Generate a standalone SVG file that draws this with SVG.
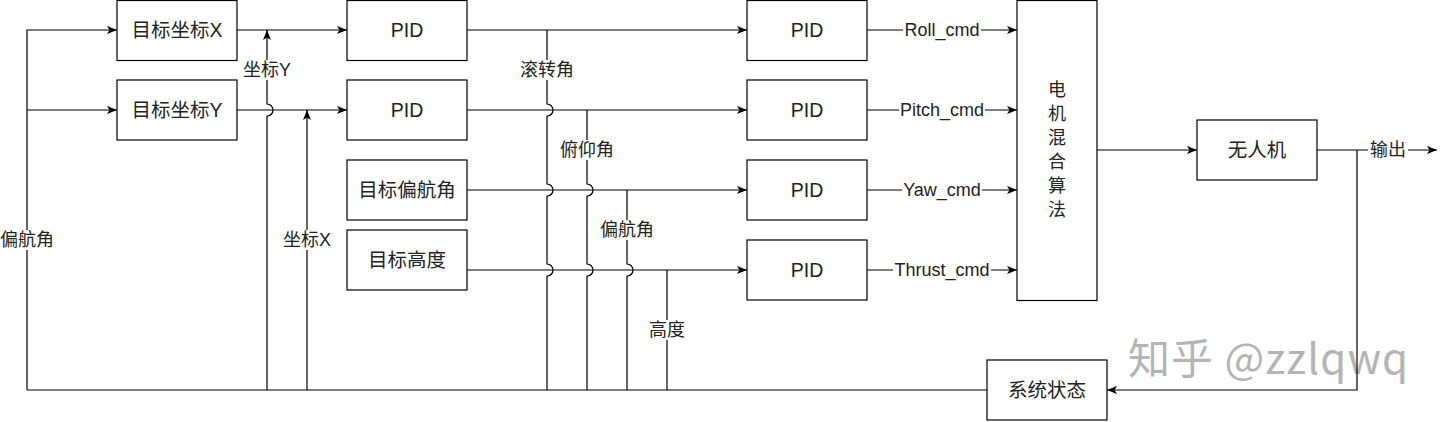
<svg xmlns="http://www.w3.org/2000/svg" width="1446" height="422" viewBox="0 0 1446 422">
<style>
.box{fill:#fff;stroke:#000;stroke-width:1.2}
.ln{fill:none;stroke:#000;stroke-width:1.2}
.t{font-family:"Liberation Sans","Noto Sans CJK SC",sans-serif;font-size:18px;fill:#222;text-anchor:middle;dominant-baseline:central}
.b{font-size:19.5px}
.bg{fill:#fff}
.wm{font-family:"Noto Sans CJK SC",sans-serif;font-size:42px;fill:#b4b4b4}
</style>
<defs>
<marker id="arr" markerUnits="userSpaceOnUse" markerWidth="12" markerHeight="12" refX="10" refY="5" orient="auto">
<path d="M0,1 L10,5 L0,9 L2.5,5 z" fill="#000"/>
</marker>
</defs>
<rect width="1446" height="422" fill="#fff"/>
<text class="wm" x="1128" y="374" textLength="280">知乎 @zzlqwq</text>
<g id="connectors">
<path class="ln" d="M27,390 L27,30 L117,30" marker-end="url(#arr)"/>
<path class="ln" d="M27,110 L117,110" marker-end="url(#arr)"/>
<path class="ln" d="M27,390 L987,390"/>
<path class="ln" d="M237,30 L347,30" marker-end="url(#arr)"/>
<path class="ln" d="M237,110 L347,110" marker-end="url(#arr)"/>
<path class="ln" d="M267,390 L267,116 A6,6 0 0 0 267,104 L267,30" marker-end="url(#arr)"/>
<path class="ln" d="M307,390 L307,110" marker-end="url(#arr)"/>
<path class="ln" d="M467,30 L747,30" marker-end="url(#arr)"/>
<path class="ln" d="M467,110 L747,110" marker-end="url(#arr)"/>
<path class="ln" d="M467,190 L747,190" marker-end="url(#arr)"/>
<path class="ln" d="M467,270 L747,270" marker-end="url(#arr)"/>
<path class="ln" d="M547,30 L547,104 A6,6 0 0 1 547,116 L547,184 A6,6 0 0 1 547,196 L547,264 A6,6 0 0 1 547,276 L547,390"/>
<path class="ln" d="M587,110 L587,184 A6,6 0 0 1 587,196 L587,264 A6,6 0 0 1 587,276 L587,390"/>
<path class="ln" d="M627,190 L627,264 A6,6 0 0 1 627,276 L627,390"/>
<path class="ln" d="M667,270 L667,390"/>
<path class="ln" d="M867,30 L1017,30" marker-end="url(#arr)"/>
<path class="ln" d="M867,110 L1017,110" marker-end="url(#arr)"/>
<path class="ln" d="M867,190 L1017,190" marker-end="url(#arr)"/>
<path class="ln" d="M867,270 L1017,270" marker-end="url(#arr)"/>
<path class="ln" d="M1097,150 L1197,150" marker-end="url(#arr)"/>
<path class="ln" d="M1317,150 L1437,150" marker-end="url(#arr)"/>
<path class="ln" d="M1357,150 L1357,390 L1107,390" marker-end="url(#arr)"/>
<rect class="bg" x="243" y="60" width="48" height="20"/><text class="t" x="267" y="70">坐标Y</text>
<rect class="bg" x="283" y="230" width="48" height="20"/><text class="t" x="307" y="240">坐标X</text>
<rect class="bg" x="1" y="230" width="53" height="20"/><text class="t" x="27" y="240">偏航角</text>
<rect class="bg" x="520" y="60" width="54" height="20"/><text class="t" x="547" y="70">滚转角</text>
<rect class="bg" x="560" y="140" width="54" height="20"/><text class="t" x="587" y="150">俯仰角</text>
<rect class="bg" x="600" y="220" width="54" height="20"/><text class="t" x="627" y="230">偏航角</text>
<rect class="bg" x="648" y="320" width="38" height="20"/><text class="t" x="667" y="330">高度</text>
<rect class="bg" x="903" y="20" width="78" height="20"/><text class="t" x="942" y="30">Roll_cmd</text>
<rect class="bg" x="899" y="100" width="86" height="20"/><text class="t" x="942" y="110">Pitch_cmd</text>
<rect class="bg" x="902" y="180" width="80" height="20"/><text class="t" x="942" y="190">Yaw_cmd</text>
<rect class="bg" x="893" y="260" width="98" height="20"/><text class="t" x="942" y="270">Thrust_cmd</text>
<rect class="bg" x="1368" y="140" width="40" height="20"/><text class="t" x="1388" y="150">输出</text>
</g>
<g id="n-tx"><rect class="box" x="117" y="0.5" width="120" height="60"/><text class="t b" x="177" y="30">目标坐标X</text></g>
<g id="n-ty"><rect class="box" x="117" y="80" width="120" height="60"/><text class="t b" x="177" y="110">目标坐标Y</text></g>
<g id="n-pid1"><rect class="box" x="347" y="0.5" width="120" height="60"/><text class="t b" x="407" y="30">PID</text></g>
<g id="n-pid2"><rect class="box" x="347" y="80" width="120" height="60"/><text class="t b" x="407" y="110">PID</text></g>
<g id="n-yaw"><rect class="box" x="347" y="160" width="120" height="60"/><text class="t b" x="407" y="190">目标偏航角</text></g>
<g id="n-alt"><rect class="box" x="347" y="230" width="120" height="60"/><text class="t b" x="407" y="260">目标高度</text></g>
<g id="n-pid3"><rect class="box" x="747" y="0.5" width="120" height="60"/><text class="t b" x="807" y="30">PID</text></g>
<g id="n-pid4"><rect class="box" x="747" y="80" width="120" height="60"/><text class="t b" x="807" y="110">PID</text></g>
<g id="n-pid5"><rect class="box" x="747" y="160" width="120" height="60"/><text class="t b" x="807" y="190">PID</text></g>
<g id="n-pid6"><rect class="box" x="747" y="240" width="120" height="60"/><text class="t b" x="807" y="270">PID</text></g>
<g id="n-mix"><rect class="box" x="1017" y="0.5" width="80" height="300"/>
<text class="t" x="1057" y="90">电</text><text class="t" x="1057" y="114">机</text><text class="t" x="1057" y="138">混</text><text class="t" x="1057" y="162">合</text><text class="t" x="1057" y="186">算</text><text class="t" x="1057" y="210">法</text></g>
<g id="n-uav"><rect class="box" x="1197" y="120" width="120" height="60"/><text class="t b" x="1257" y="150">无人机</text></g>
<g id="n-state"><rect class="box" x="987" y="360" width="120" height="60"/><text class="t b" x="1047" y="390">系统状态</text></g>
</svg>
